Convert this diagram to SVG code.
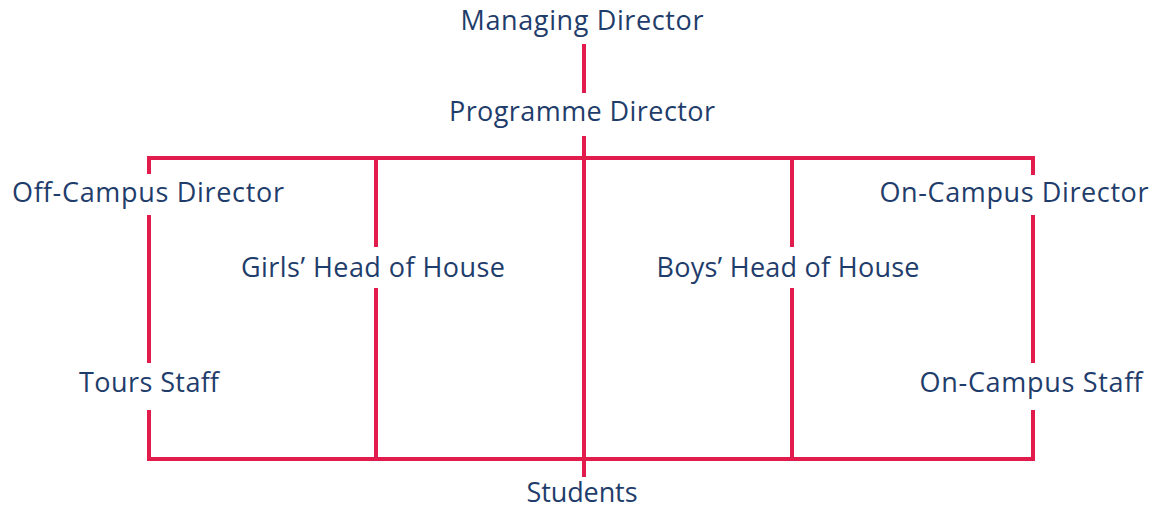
<svg xmlns="http://www.w3.org/2000/svg" width="1156" height="508" viewBox="0 0 1156 508">
<style>
.t{font-family:"Open Sans","Noto Sans",sans-serif;font-size:27px;fill:#1f3d6b;text-anchor:middle}
.c{stroke:#e11b4c;stroke-width:4;fill:none;stroke-linecap:butt;stroke-linejoin:miter}
</style>
<rect width="1156" height="508" fill="#ffffff"/>
<g id="connectors" class="c">
<line x1="584" y1="44" x2="584" y2="93"/>
<line x1="584" y1="136" x2="584" y2="477"/>
<polyline points="149,174 149,158 1033,158 1033,175"/>
<line x1="376" y1="158" x2="376" y2="247"/>
<line x1="792" y1="158" x2="792" y2="247"/>
<line x1="149" y1="215" x2="149" y2="363"/>
<line x1="1033" y1="215" x2="1033" y2="363"/>
<polyline points="149,410 149,459 1033,459 1033,410"/>
<line x1="376" y1="288" x2="376" y2="459"/>
<line x1="792" y1="288" x2="792" y2="459"/>
</g>
<g id="managing-director"><text class="t" x="582" y="30" textLength="243" lengthAdjust="spacing">Managing Director</text></g>
<g id="programme-director"><text class="t" x="582" y="121" textLength="266" lengthAdjust="spacing">Programme Director</text></g>
<g id="off-campus-director"><text class="t" x="148" y="202" textLength="272" lengthAdjust="spacing">Off-Campus Director</text></g>
<g id="on-campus-director"><text class="t" x="1014" y="202" textLength="269" lengthAdjust="spacing">On-Campus Director</text></g>
<g id="girls-head"><text class="t" x="373" y="277" textLength="264" lengthAdjust="spacing">Girls’ Head of House</text></g>
<g id="boys-head"><text class="t" x="788" y="277" textLength="263" lengthAdjust="spacing">Boys’ Head of House</text></g>
<g id="tours-staff"><text class="t" x="149" y="392" textLength="140" lengthAdjust="spacing">Tours Staff</text></g>
<g id="on-campus-staff"><text class="t" x="1031" y="392" textLength="223" lengthAdjust="spacing">On-Campus Staff</text></g>
<g id="students"><text class="t" x="582" y="502" textLength="111" lengthAdjust="spacing">Students</text></g>
</svg>
